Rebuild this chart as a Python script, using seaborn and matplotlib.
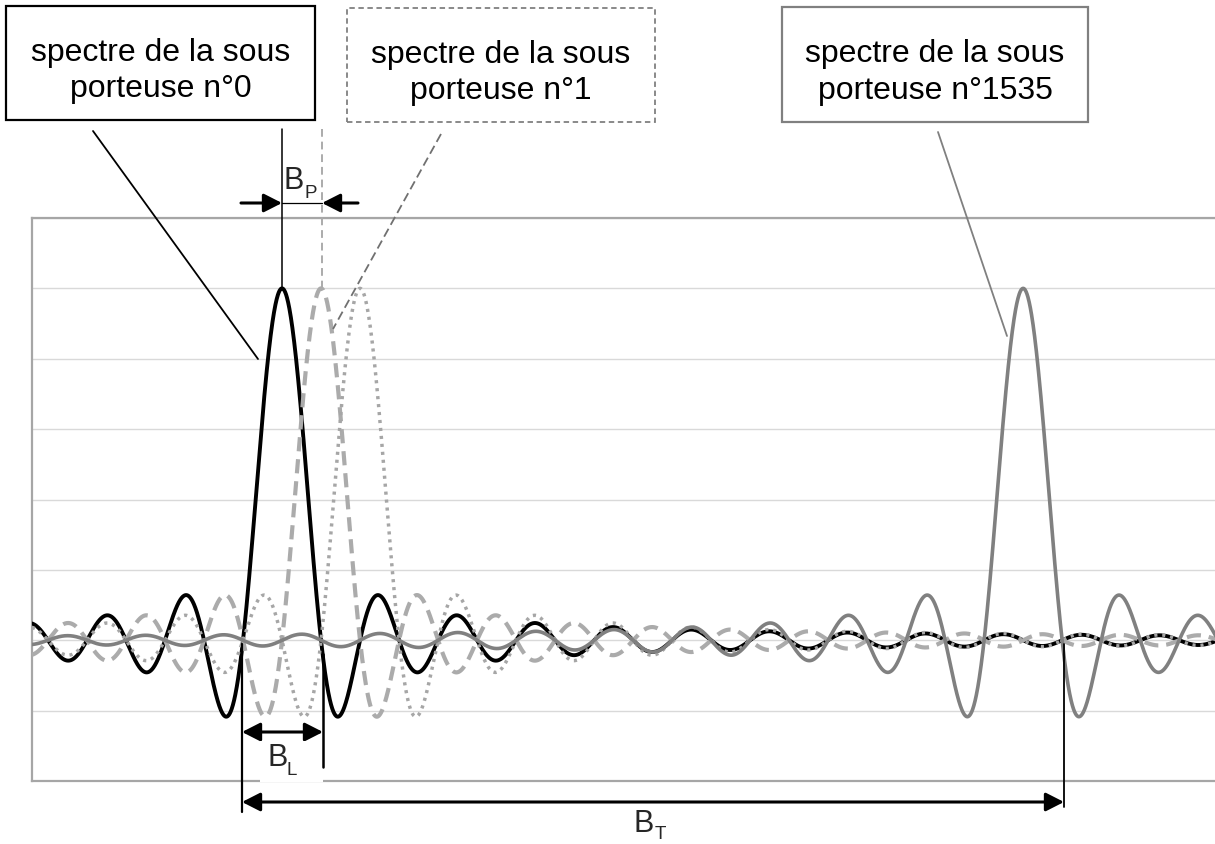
import numpy as np
import pandas as pd
import matplotlib
matplotlib.use("Agg")
import matplotlib.pyplot as plt
from matplotlib.patches import Rectangle
from matplotlib.lines import Line2D
import seaborn as sns

# ---------------- data ----------------
series_names = ["sous porteuse n°0", "sous porteuse n°1", "sous porteuse n°2", "sous porteuse n°1535"]
series_centers = [0, 1, 2, 19]          # centre frequency, in units of subcarrier spacing (as drawn)
x_limits = [-6.41, 24.56]
y_limits = [-0.4, 1.2]
y_grid = [-0.4, -0.2, 0.0, 0.2, 0.4, 0.6, 0.8, 1.0, 1.2]
box_texts = ["spectre de la sous\nporteuse n°0",
             "spectre de la sous\nporteuse n°1",
             "spectre de la sous\nporteuse n°1535"]

freq = np.linspace(x_limits[0], x_limits[1], 4000)
frames = []
for name, c in zip(series_names, series_centers):
    frames.append(pd.DataFrame({"f": freq, "amp": np.sinc(freq - c), "serie": name}))
df = pd.concat(frames, ignore_index=True)

# ---------------- figure ----------------
W, H = 1215, 845
sns.set_theme(style="white")
plt.rcParams["font.family"] = ["Liberation Sans", "DejaVu Sans"]

fig = plt.figure(figsize=(W / 100, H / 100), dpi=100)
ax_left, ax_right = 32, 1240
ax_top, ax_bot = 219, 782
ax = fig.add_axes([ax_left / W, 1 - ax_bot / H, (ax_right - ax_left) / W, (ax_bot - ax_top) / H])

styles = {
    series_names[0]: dict(color="#000000", linewidth=2.8, linestyle="-"),
    series_names[1]: dict(color="#ababab", linewidth=3.0, linestyle=(0, (3.4, 1.9))),
    series_names[2]: dict(color="#a6a6a6", linewidth=2.5, linestyle=(0, (0.9, 1.4))),
    series_names[3]: dict(color="#808080", linewidth=2.6, linestyle="-"),
}
for z, name in enumerate(series_names):
    sub = df[df["serie"] == name]
    sns.lineplot(data=sub, x="f", y="amp", ax=ax, estimator=None, sort=False,
                 zorder=3 + z, **styles[name])

ax.set_xlim(*x_limits)
ax.set_ylim(*y_limits)
ax.set_yticks(y_grid)
ax.set_xticks([])
ax.yaxis.grid(True, color="#d9d9d9", linewidth=1.0)
ax.set_axisbelow(True)
ax.tick_params(left=False, bottom=False, labelleft=False, labelbottom=False)
ax.set_xlabel("")
ax.set_ylabel("")
for s in ["top", "left", "bottom"]:
    ax.spines[s].set_color("#a6a6a6")
    ax.spines[s].set_linewidth(1.6)
ax.spines["right"].set_visible(False)


# ---------------- annotations (figure pixel helper) ----------------
def P(x, y):
    return (x / W, 1 - y / H)


def line(x0, y0, x1, y1, **kw):
    (a, b), (c, d) = P(x0, y0), P(x1, y1)
    fig.add_artist(Line2D([a, c], [b, d], transform=fig.transFigure, **kw))


def arrow(x0, y0, x1, y1, both=False, lw=2.0):
    style = "<|-|>" if both else "-|>"
    ax.annotate("", xy=P(x1, y1), xytext=P(x0, y0), xycoords="figure fraction",
                textcoords="figure fraction", annotation_clip=False,
                arrowprops=dict(arrowstyle=f"{style},head_length=0.55,head_width=0.28",
                                mutation_scale=20, lw=lw, color="black",
                                shrinkA=0, shrinkB=0), zorder=20)


def box(x0, y0, x1, y1, text, ec, ls="-", lw=1.6):
    (a, b) = P(x0, y1)
    rect = Rectangle((a, b), (x1 - x0) / W, (y1 - y0) / H, transform=fig.transFigure,
                     facecolor="white", edgecolor=ec, linestyle=ls, linewidth=lw, zorder=15)
    fig.add_artist(rect)
    cx, cy = P((x0 + x1) / 2, (y0 + y1) / 2 + 7)
    fig.text(cx, cy, text, ha="center", va="center", fontsize=23, color="black",
             linespacing=1.3, zorder=16)


box(6, 7, 315, 121, box_texts[0], "black", "-", 1.6)
box(347, 9, 655, 123, box_texts[1], "#808080", (0, (3, 2)), 1.3)
box(782, 8, 1088, 123, box_texts[2], "#808080", "-", 1.6)

# leader lines
line(93, 132, 258, 360, color="black", lw=1.3, zorder=20)
line(441, 135, 333, 330, color="#707070", lw=1.3, linestyle=(0, (5, 2.5)), zorder=20)
line(938, 133, 1007, 337, color="#808080", lw=1.3, zorder=20)

# B_P
line(282, 130, 282, 290, color="black", lw=1.1, zorder=20)
line(322, 130, 322, 290, color="#ababab", lw=1.4, linestyle=(0, (4, 2.5)), zorder=20)
line(282, 204, 322, 204, color="black", lw=0.9, zorder=20)
arrow(241, 204, 282, 204, lw=2.2)
arrow(358, 204, 322, 204, lw=2.2)
fig.text(*P(284, 189), "B", fontsize=22, ha="left", va="baseline", zorder=21)
fig.text(*P(304, 198), "P", fontsize=13.5, ha="left", va="baseline", zorder=21)

# B_L
fig.add_artist(Rectangle(P(260, 783), (323 - 260) / W, (783 - 742) / H,
                         transform=fig.transFigure, facecolor="white", edgecolor="none", zorder=18))
line(242, 645, 242, 813, color="black", lw=1.6, zorder=20)
line(323, 655, 323, 768, color="black", lw=1.8, zorder=20)
arrow(242, 733, 323, 733, both=True, lw=2.2)
fig.text(*P(267, 766), "B", fontsize=22, ha="left", va="baseline", zorder=21)
fig.text(*P(287, 775), "L", fontsize=13.5, ha="left", va="baseline", zorder=21)

# B_T
line(1064, 645, 1064, 808, color="black", lw=1.3, zorder=20)
arrow(242, 803, 1064, 803, both=True, lw=2.2)
fig.text(*P(634, 832), "B", fontsize=22, ha="left", va="baseline", zorder=21)
fig.text(*P(655, 839), "T", fontsize=13.5, ha="left", va="baseline", zorder=21)

fig.savefig("out.png", dpi=100, facecolor="white")
